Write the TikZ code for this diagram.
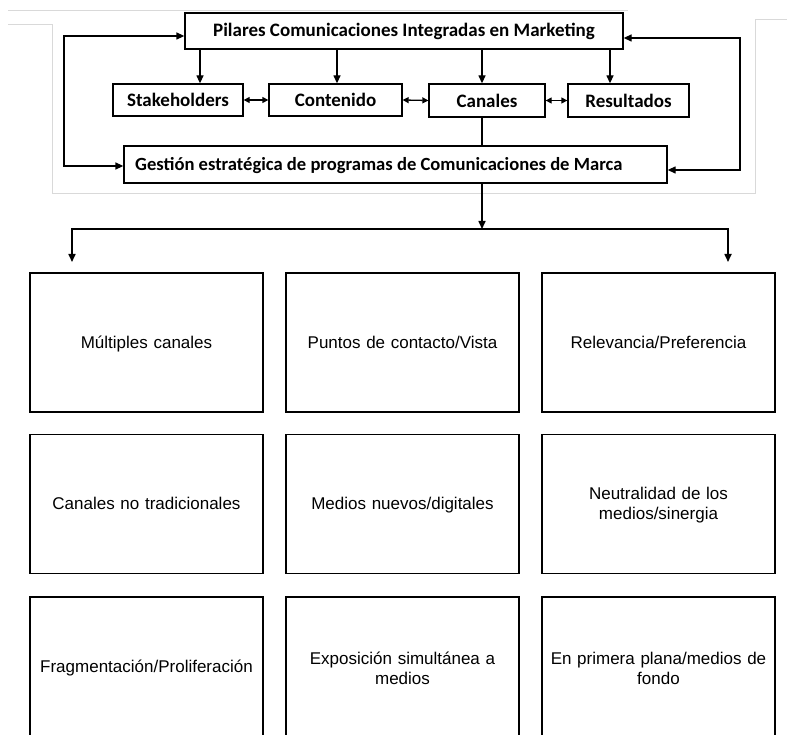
\documentclass[tikz,border=0pt]{standalone}
\usepackage{fontspec}
\setmainfont{Liberation Sans}
\newfontfamily\calfont{Carlito}
\usetikzlibrary{arrows.meta}
\begin{document}
\begin{tikzpicture}[x=1pt,y=-1pt,
  topbox/.style={draw,line width=1.3pt,inner sep=0pt,font=\calfont\bfseries\fontsize{19}{21}\selectfont},
  gridtext/.style={inner sep=0pt,minimum width=233,minimum height=139,text width=225,align=center,font=\fontsize{17}{19.5}\selectfont,execute at begin node=\vphantom{Úp}},
  gridbox/.style={gridtext,draw,line width=1.8pt},
  arr/.style={line width=1.3pt,-{Triangle[length=8pt,width=7pt]}},
  dbl/.style={line width=1.3pt,{Triangle[length=6pt,width=6pt]}-{Triangle[length=6pt,width=6pt]}},
  loop/.style={line width=1.3pt,{Triangle[length=8pt,width=7pt]}-{Triangle[length=8pt,width=7pt]}},
  frame/.style={draw=black!15,line width=0.8pt}]
\useasboundingbox (0,0) rectangle (787,735);
% faint frame of the pasted image
\draw[frame] (8,10) -- (628,10);
\draw[frame] (8,24) -- (52,24) -- (52,193) -- (755,193) -- (755,19) -- (787,19);
% top part
\node[topbox,minimum width=438,minimum height=36] (pil) at (404,31) {Pilares Comunicaciones Integradas en Marketing};
\node[topbox,minimum width=130,minimum height=32] (stk) at (178,100) {Stakeholders};
\node[topbox,minimum width=133,minimum height=32] (con) at (335.5,100) {Contenido};
\node[topbox,minimum width=116,minimum height=33] (can) at (487,100.5) {Canales};
\node[topbox,minimum width=121,minimum height=33] (res) at (628.5,100.5) {Resultados};
\node[topbox,minimum width=543,minimum height=37] (ges) at (395.5,164.5) {};
\node[anchor=base west,inner sep=0pt,font=\calfont\bfseries\fontsize{18.6}{21}\selectfont] (gest) at (135,171) {Gestión estratégica de programas de Comunicaciones de Marca};
\draw[arr] (pil.south -| 200,0) -- (stk.north -| 200,0);
\draw[arr] (pil.south -| 337,0) -- (con.north -| 337,0);
\draw[arr] (pil.south -| 482,0) -- (can.north -| 482,0);
\draw[arr] (pil.south -| 610,0) -- (res.north -| 610,0);
\draw[dbl] (stk.east) -- (con.west);
\draw[dbl] (con.east) -- (can.west);
\draw[dbl] (can.east) -- (res.west);
\draw[line width=1.3pt] (can.south -| 482,0) -- (ges.north -| 482,0);
\draw[loop] (pil.west |- 0,36) -| (64,100) |- (ges.west |- 0,166);
\draw[loop] (pil.east |- 0,38) -| (740,100) |- (ges.east |- 0,170);
% distribution
\coordinate (jn) at (482,229);
\coordinate (lt) at (72,262);
\coordinate (rt) at (728,262);
\draw[arr,line width=1.6pt] (ges.south -| jn) -- (jn);
\draw[arr,line width=1.6pt] (jn) -- (72,229) -- (lt);
\draw[arr,line width=1.6pt] (jn) -- (728,229) -- (rt);
% grid
\node[gridbox] (a1) at (146.5,342.5) {Múltiples canales};
\node[gridbox] (a2) at (402.5,342.5) {Puntos de contacto/Vista};
\node[gridbox] (a3) at (658.5,342.5) {Relevancia/Preferencia};
\node[gridbox] (b1) at (146.5,504) {Canales no tradicionales};
\node[gridbox] (b2) at (402.5,504) {Medios nuevos/digitales};
\node[gridbox] (b3) at (658.5,504) {Neutralidad de los\\medios/sinergia};
\node[gridtext] (c1) at (146.5,667) {Fragmentación/Proliferación};
\node[gridtext] (c2) at (402.5,667) {Exposición simultánea a\\medios};
\node[gridtext] (c3) at (658.5,667) {En primera plana/medios de\\fondo};
\foreach \n in {c1,c2,c3}{
  \draw[line width=1.8pt] ([yshift=-40pt]\n.south west) -- (\n.north west) -- (\n.north east) -- ([yshift=-40pt]\n.south east);
}
\end{tikzpicture}
\end{document}
